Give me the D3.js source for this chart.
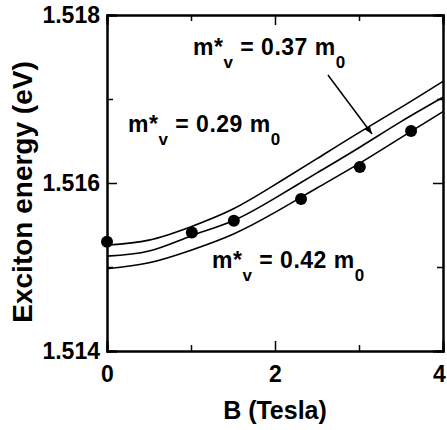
<!DOCTYPE html>
<html><head><meta charset="utf-8">
<script src="https://cdn.jsdelivr.net/npm/d3@7"></script>
<style>
html,body{margin:0;padding:0;background:#fff;}
svg{display:block;font-family:"Liberation Sans",Arial,Helvetica,sans-serif;font-weight:bold;}
</style></head>
<body><svg id="c" width="447" height="430"></svg>
<script>
// ---- data ----
const fieldB = [0, 0.5, 1, 1.5, 2, 2.5, 3, 3.5, 4];
const curve029 = [1.51526, 1.51532, 1.51548, 1.51569, 1.51598, 1.51629, 1.51660, 1.51690, 1.51721];
const curve037 = [1.51513, 1.51519, 1.51537, 1.51555, 1.51582, 1.51612, 1.51642, 1.51673, 1.51702];
const curve042 = [1.51498, 1.51505, 1.51520, 1.51539, 1.51565, 1.51594, 1.51623, 1.51654, 1.51685];
const dataB = [0, 1.01, 1.51, 2.31, 3.01, 3.62];
const dataE = [1.51530, 1.51541, 1.51555, 1.51581, 1.51619, 1.51662];
const xMajor = [0, 2, 4];
const xMinor = [1, 3];
const yMajor = [1.514, 1.516, 1.518];
const yMinor = [1.515, 1.517];
const labels = [
  {mass: "0.37", b: 1.024, e: 1.517524},
  {mass: "0.29", b: 0.25, e: 1.516607},
  {mass: "0.42", b: 1.25, e: 1.514988}
];
const arrowFrom = [2.63, 1.517286];
const arrowTo = [3.155, 1.516583];

// ---- layout ----
const svg = d3.select("#c");
const L = 107, R = 443, T = 15, B = 351;
const x = d3.scaleLinear().domain([0, 4]).range([L, R]);
const y = d3.scaleLinear().domain([1.514, 1.518]).range([B, T]);
const fmtY = d3.format(".3f");

function styleAxis(g){
  g.selectAll(".domain").attr("stroke", "#000").attr("stroke-width", 2);
  g.selectAll(".tick line").attr("stroke", "#000").attr("stroke-width", 1.5);
  g.selectAll("text").attr("font-size", 23).attr("font-weight", "bold")
    .attr("font-family", '"Liberation Sans",Arial,sans-serif').attr("fill", "#000");
}
// bottom
svg.append("g").attr("transform", `translate(0,${B})`)
  .call(d3.axisBottom(x).tickValues(xMajor).tickSize(-10).tickPadding(15).tickFormat(d3.format("d")))
  .call(styleAxis)
  .selectAll(".tick text").attr("dx", d => d === 4 ? -4 : 0);
svg.append("g").attr("transform", `translate(0,${B})`)
  .call(d3.axisBottom(x).tickValues(xMinor).tickSize(-6).tickFormat(""))
  .call(styleAxis);
// top
svg.append("g").attr("transform", `translate(0,${T})`)
  .call(d3.axisTop(x).tickValues(xMajor).tickSize(-10).tickFormat(""))
  .call(styleAxis);
svg.append("g").attr("transform", `translate(0,${T})`)
  .call(d3.axisTop(x).tickValues(xMinor).tickSize(-6).tickFormat(""))
  .call(styleAxis);
// left
svg.append("g").attr("transform", `translate(${L},0)`)
  .call(d3.axisLeft(y).tickValues(yMajor).tickSize(-10).tickPadding(7).tickFormat(fmtY))
  .call(styleAxis);
svg.append("g").attr("transform", `translate(${L},0)`)
  .call(d3.axisLeft(y).tickValues(yMinor).tickSize(-6).tickFormat(""))
  .call(styleAxis);
// right
svg.append("g").attr("transform", `translate(${R},0)`)
  .call(d3.axisRight(y).tickValues(yMajor).tickSize(-10).tickFormat(""))
  .call(styleAxis);
svg.append("g").attr("transform", `translate(${R},0)`)
  .call(d3.axisRight(y).tickValues(yMinor).tickSize(-6).tickFormat(""))
  .call(styleAxis);

// curves
const line = d3.line().x(d => x(d[0])).y(d => y(d[1])).curve(d3.curveNatural);
[curve029, curve037, curve042].forEach(c => {
  svg.append("path").datum(fieldB.map((b, i) => [b, c[i]]))
    .attr("d", line).attr("fill", "none").attr("stroke", "#000").attr("stroke-width", 1.6);
});
// data points
svg.append("g").selectAll("circle").data(dataB.map((b, i) => [b, dataE[i]]))
  .join("circle").attr("cx", d => x(d[0])).attr("cy", d => y(d[1])).attr("r", 6).attr("fill", "#000");

// labels
labels.forEach(l => {
  const t = svg.append("text").attr("x", x(l.b)).attr("y", y(l.e))
    .attr("font-size", 23).attr("letter-spacing", 0.5).attr("fill", "#000");
  t.append("tspan").text("m*");
  t.append("tspan").attr("dy", 13).attr("font-size", 17).text("v");
  t.append("tspan").attr("dy", -13).text(" = " + l.mass + " m");
  t.append("tspan").attr("dy", 13).attr("font-size", 17).text("0");
});

// arrow
svg.append("defs").append("marker").attr("id", "ah").attr("viewBox", "0 0 10 10")
  .attr("refX", 10).attr("refY", 5).attr("markerWidth", 8).attr("markerHeight", 8)
  .attr("markerUnits", "userSpaceOnUse").attr("orient", "auto")
  .append("path").attr("d", "M0,1 L10,5 L0,9 Z").attr("fill", "#000");
svg.append("line").attr("x1", x(arrowFrom[0])).attr("y1", y(arrowFrom[1]))
  .attr("x2", x(arrowTo[0])).attr("y2", y(arrowTo[1]))
  .attr("stroke", "#000").attr("stroke-width", 1.5).attr("marker-end", "url(#ah)");

// axis titles
svg.append("text").attr("x", (L + R) / 2 ).attr("y", 419).attr("text-anchor", "middle")
  .attr("font-size", 25).attr("fill", "#000").text("B (Tesla)");
svg.append("text").attr("transform", `translate(32,${(T + B) / 2 + 9}) rotate(-90)`)
  .attr("text-anchor", "middle").attr("font-size", 28).attr("fill", "#000").text("Exciton energy (eV)");
</script></body></html>
